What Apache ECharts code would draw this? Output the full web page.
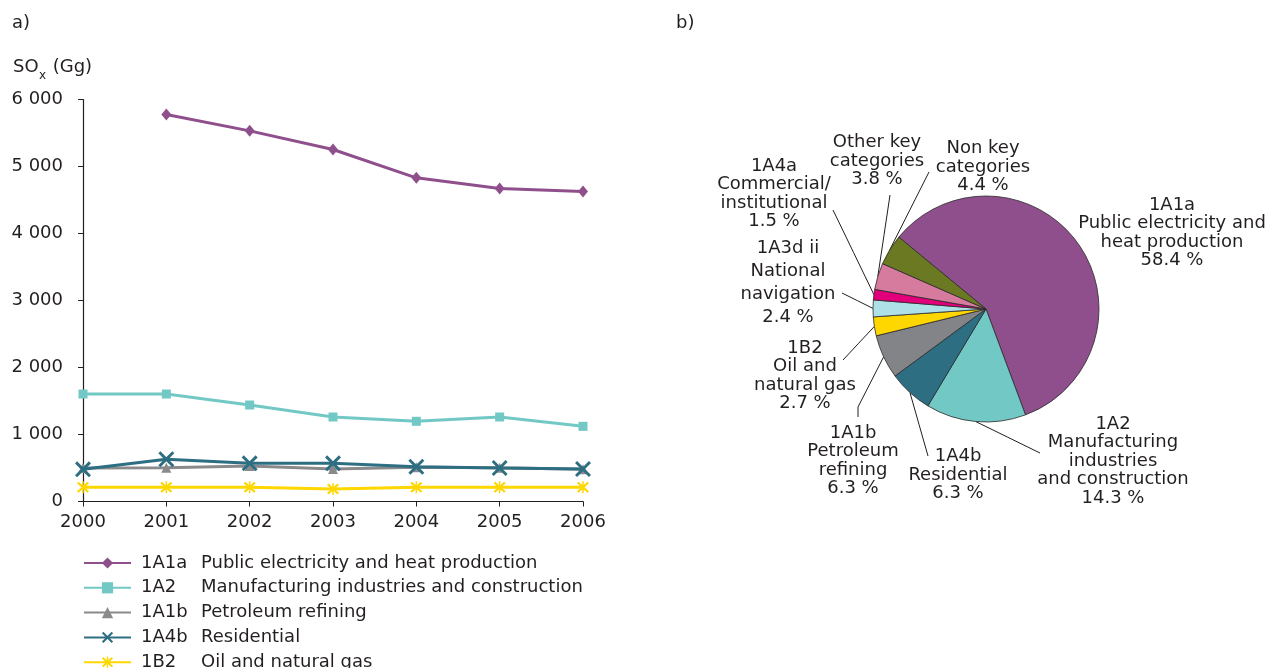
<!DOCTYPE html>
<html>
<head>
<meta charset="utf-8">
<script src="https://cdn.jsdelivr.net/npm/echarts@6/dist/echarts.min.js"></script>
<style>
  html, body { margin: 0; padding: 0; background: #ffffff; }
  #chart { width: 1270px; height: 668px; }
</style>
</head>
<body>
<div id="chart"></div>
<script>
// ---- a) SOx emissions by key category, 2000-2006 (Gg) ----
var years = ['2000', '2001', '2002', '2003', '2004', '2005', '2006'];
var yTicks = [0, 1000, 2000, 3000, 4000, 5000, 6000];

var seriesCodes = ['1A1a', '1A2', '1A1b', '1A4b', '1B2'];
var seriesNames = [
  'Public electricity and heat production',
  'Manufacturing industries and construction',
  'Petroleum refining',
  'Residential',
  'Oil and natural gas'
];
var publicElectricity = [null, 5777, 5532, 5254, 4831, 4673, 4628];
var manufacturing     = [1604, 1604, 1440, 1261, 1197, 1261, 1122];
var petroleumRefining = [500, 505, 530, 485, 510, 505, 480];
var residential       = [480, 630, 570, 570, 519, 500, 485];
var oilAndGas         = [212, 212, 212, 187, 212, 212, 212];

// ---- b) share of SOx emissions, 2006 (%) ----
var pieLabels = [
  '1A1a\nPublic electricity and\nheat production',
  '1A2\nManufacturing\nindustries\nand construction',
  '1A4b\nResidential',
  '1A1b\nPetroleum\nrefining',
  '1B2\nOil and\nnatural gas',
  '1A3d ii\nNational\nnavigation',
  '1A4a\nCommercial/\ninstitutional',
  'Other key\ncategories',
  'Non key\ncategories'
];
var pieShares = [58.4, 14.3, 6.3, 6.3, 2.7, 2.4, 1.5, 3.8, 4.4];

// ---- styling ----
var FONT = '"DejaVu Sans", Verdana, sans-serif';
var TEXT = '#231f20';
var lineColors = ['#8f4f8c', '#72c8c4', '#8a8a8c', '#2e6e82', '#fed600'];
var pieColors = ['#8f4f8c', '#72c8c4', '#2e6e82', '#838487', '#fed600',
                 '#aee0e8', '#e2007a', '#d67a9e', '#6b7a22'];

var crossPath = 'path://M0,1.3L1.3,0L10,8.7L8.7,10Z M8.7,0L10,1.3L1.3,10L0,8.7Z';
var starPath  = 'path://M0,1.3L1.3,0L10,8.7L8.7,10Z M8.7,0L10,1.3L1.3,10L0,8.7Z M4.4,-0.5L5.6,-0.5L5.6,10.5L4.4,10.5Z';
var symbols = ['diamond', 'rect', 'triangle', crossPath, starPath];
var symbolSizes = [[10, 12], 9, 10, 16, 12];
var lineData = [publicElectricity, manufacturing, petroleumRefining, residential, oilAndGas];

function spaced(v) {
  return String(v).replace(/\B(?=(\d{3})+(?!\d))/g, ' ');
}

var lineSeries = seriesCodes.map(function (code, i) {
  return {
    type: 'line',
    name: code,
    data: lineData[i],
    symbol: symbols[i],
    symbolSize: symbolSizes[i],
    showAllSymbol: true,
    connectNulls: false,
    lineStyle: { color: lineColors[i], width: 3 },
    itemStyle: { color: lineColors[i] },
    z: 2 + i
  };
});

// where each pie label block sits, and where its leader line ends
var pieLabelAnchor = [
  { x: 1172, y: 233, lh: 18.5 },
  { x: 1113, y: 461, lh: 18.5, end: [1040, 453] },
  { x: 958, y: 475, lh: 18.5, end: [928, 456] },
  { x: 853, y: 461, lh: 18.5, end: [858, 417], bend: [858, 407] },
  { x: 805, y: 376, lh: 18.5, end: [843, 360] },
  { x: 788, y: 283, lh: 23, end: [842, 293] },
  { x: 774, y: 194, lh: 18.5, end: [833, 210] },
  { x: 877, y: 161, lh: 18.5, end: [890, 195] },
  { x: 983, y: 167, lh: 18.5, end: [929, 172] }
];

var pieData = pieLabels.map(function (name, i) {
  return {
    name: name,
    value: pieShares[i],
    itemStyle: { color: pieColors[i] },
    label: { lineHeight: pieLabelAnchor[i].lh },
    labelLine: { show: !!pieLabelAnchor[i].end }
  };
});

var chart = echarts.init(document.getElementById('chart'), null, { renderer: 'canvas' });

chart.setOption({
  animation: false,
  backgroundColor: '#ffffff',
  textStyle: { fontFamily: FONT, color: TEXT },
  graphic: [
    { type: 'text', left: 12, top: 14, style: { text: 'a)', font: '18px ' + FONT, fill: TEXT } },
    { type: 'text', left: 676, top: 14, style: { text: 'b)', font: '18px ' + FONT, fill: TEXT } },
    { type: 'text', left: 13, top: 58, style: { text: 'SO', font: '18px ' + FONT, fill: TEXT } },
    { type: 'text', left: 39, top: 70, style: { text: 'x', font: '12px ' + FONT, fill: TEXT } },
    { type: 'text', left: 47, top: 58, style: { text: ' (Gg)', font: '18px ' + FONT, fill: TEXT } }
  ],
  grid: { left: 83, top: 99.5, width: 500, height: 402, containLabel: false },
  xAxis: {
    type: 'category',
    data: years,
    boundaryGap: false,
    axisLine: { lineStyle: { color: '#231f20', width: 1.2 } },
    axisTick: { show: true, alignWithLabel: true, length: 5, lineStyle: { color: '#231f20' } },
    axisLabel: { fontSize: 18, color: TEXT, margin: 12, fontFamily: FONT },
    splitLine: { show: false }
  },
  yAxis: {
    type: 'value',
    min: yTicks[0],
    max: yTicks[yTicks.length - 1],
    interval: yTicks[1] - yTicks[0],
    axisLine: { show: true, lineStyle: { color: '#231f20', width: 1.2 } },
    axisTick: { show: true, length: 5, lineStyle: { color: '#231f20' } },
    axisLabel: { fontSize: 18, color: TEXT, margin: 20, fontFamily: FONT, formatter: spaced },
    splitLine: { show: false }
  },
  legend: {
    orient: 'vertical',
    left: 83,
    top: 554,
    padding: 0,
    height: 160,
    itemWidth: 47,
    itemHeight: 14,
    itemGap: 6.8,
    data: seriesCodes,
    textStyle: {
      fontSize: 18,
      color: TEXT,
      fontFamily: FONT,
      rich: {
        s: { width: 5 },
        c: { width: 60, fontSize: 18, color: TEXT, fontFamily: FONT },
        d: { fontSize: 18, color: TEXT, fontFamily: FONT }
      }
    },
    formatter: function (code) {
      return '{s|}{c|' + code + '}{d|' + seriesNames[seriesCodes.indexOf(code)] + '}';
    }
  },
  series: lineSeries.concat([{
    type: 'pie',
    name: 'share',
    center: [986, 309],
    radius: 113,
    startAngle: 140.5,
    clockwise: true,
    avoidLabelOverlap: false,
    data: pieData,
    itemStyle: { borderColor: '#2a2a2a', borderWidth: 0.8 },
    label: {
      show: true,
      position: 'outside',
      fontSize: 18,
      fontFamily: FONT,
      color: TEXT,
      align: 'center',
      lineHeight: 18.5,
      formatter: function (p) {
        return p.name + '\n' + p.value.toFixed(1) + ' %';
      }
    },
    labelLine: { show: true, length: 10, length2: 10, lineStyle: { color: '#231f20', width: 1 } },
    labelLayout: function (p) {
      var a = pieLabelAnchor[p.dataIndex];
      var out = { x: a.x, y: a.y, align: 'center', verticalAlign: 'middle' };
      if (a.end && p.labelLinePoints) {
        var s = p.labelLinePoints[0];
        var mid = a.bend || [(s[0] + a.end[0]) / 2, (s[1] + a.end[1]) / 2];
        out.labelLinePoints = [[s[0], s[1]], mid, a.end];
      }
      return out;
    },
    emphasis: { disabled: true }
  }])
});
</script>
</body>
</html>
